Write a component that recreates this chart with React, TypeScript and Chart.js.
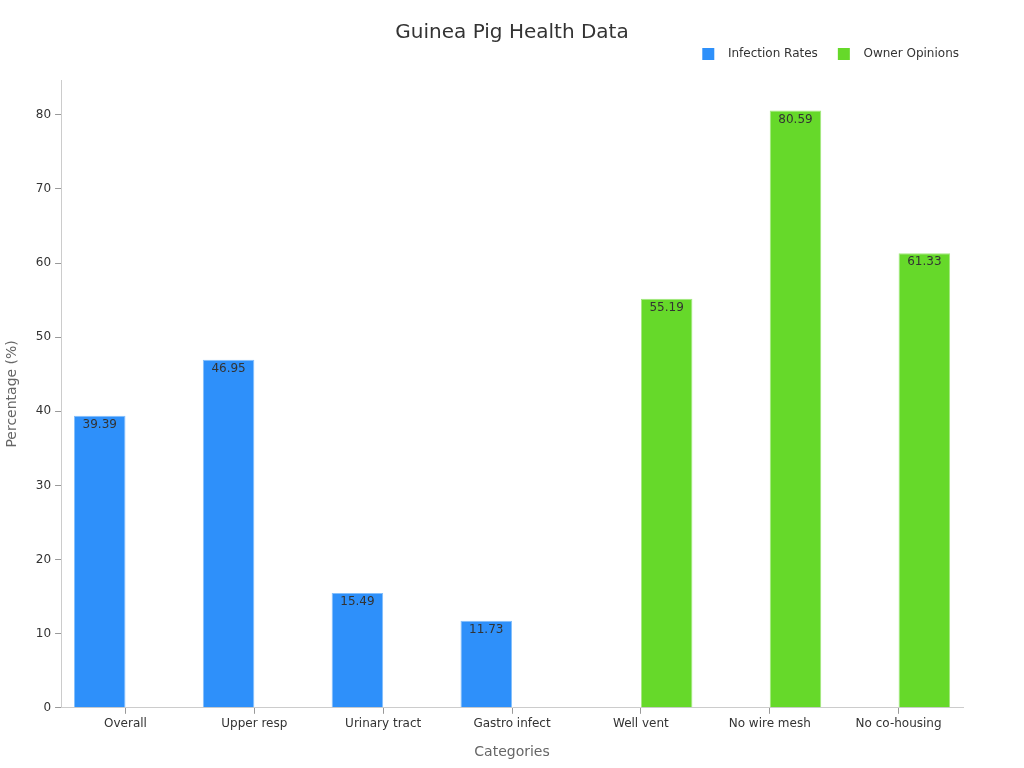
import React, { useRef, useEffect } from 'react';
import { Chart, registerables } from 'chart.js';

Chart.register(...registerables);

const CATEGORIES = ['Overall', 'Upper resp', 'Urinary tract', 'Gastro infect', 'Well vent', 'No wire mesh', 'No co-housing'];
const INFECTION_RATES = [39.39, 46.95, 15.49, 11.73, null, null, null];
const OWNER_OPINIONS = [null, null, null, null, 55.19, 80.59, 61.33];
const Y_TICKS = [0, 10, 20, 30, 40, 50, 60, 70, 80];
const Y_MAX = 84.7;

const FONT = '"DejaVu Sans", sans-serif';

// title centred on the whole canvas, not on the padded box
const titlePlugin = {
    id: 'centerTitle',
    afterDraw: (chart) => {
        const ctx = chart.ctx;
        ctx.save();
        ctx.font = `20px ${FONT}`;
        ctx.fillStyle = '#333333';
        ctx.textAlign = 'center';
        ctx.textBaseline = 'middle';
        ctx.fillText('Guinea Pig Health Data', chart.width / 2, 33);
        ctx.restore();
    },
};

// extra room between the legend and the plot
const legendMargin = {
    id: 'legendMargin',
    beforeInit: (chart) => {
        const fit = chart.legend.fit;
        chart.legend.fit = function () {
            fit.bind(chart.legend)();
            this.height += 10;
        };
    },
};

// value printed just inside the top of each bar
const barLabels = {
    id: 'barLabels',
    afterDatasetsDraw: (chart) => {
        const ctx = chart.ctx;
        ctx.save();
        ctx.font = `12px ${FONT}`;
        ctx.fillStyle = '#333333';
        ctx.textAlign = 'center';
        ctx.textBaseline = 'middle';
        chart.data.datasets.forEach((ds, i) => {
            chart.getDatasetMeta(i).data.forEach((bar, j) => {
                const v = ds.data[j];
                if (v == null) return;
                ctx.fillText(v.toFixed(2), bar.x, bar.y + 9);
            });
        });
        ctx.restore();
    },
};

export default function App() {
    const canvasRef = useRef<HTMLCanvasElement>(null);

    useEffect(() => {
        const ctx = canvasRef.current?.getContext('2d');
        if (!ctx) return;

        const chart = new Chart(ctx, {
            type: 'bar',
            data: {
                labels: CATEGORIES,
                datasets: [
                    {
                        label: 'Infection Rates',
                        data: INFECTION_RATES,
                        backgroundColor: '#2e90fa',
                        borderColor: '#84bffc',
                        borderWidth: 1,
                        barPercentage: 1,
                        categoryPercentage: 0.8,
                    },
                    {
                        label: 'Owner Opinions',
                        data: OWNER_OPINIONS,
                        backgroundColor: '#66d92a',
                        borderColor: '#a3e87e',
                        borderWidth: 1,
                        barPercentage: 1,
                        categoryPercentage: 0.8,
                    },
                ],
            },
            plugins: [titlePlugin, legendMargin, barLabels],
            options: {
                animation: false,
                responsive: true,
                maintainAspectRatio: false,
                layout: {
                    padding: { top: 28, right: 45, bottom: 3, left: 0 },
                },
                plugins: {
                    title: { display: false },
                    tooltip: { enabled: false },
                    legend: {
                        position: 'top',
                        align: 'end',
                        labels: {
                            boxWidth: 12,
                            boxHeight: 12,
                            padding: 20,
                            color: '#333333',
                            font: { family: FONT, size: 12 },
                            generateLabels: (chart) =>
                                Chart.defaults.plugins.legend.labels.generateLabels(chart).map(item => ({
                                    ...item,
                                    text: '  ' + item.text,
                                    lineWidth: 0,
                                })),
                        },
                    },
                },
                scales: {
                    x: {
                        grid: {
                            offset: false,
                            drawOnChartArea: false,
                            tickLength: 6,
                            color: '#999999',
                        },
                        border: { color: '#cccccc' },
                        ticks: {
                            color: '#333333',
                            font: { family: FONT, size: 12 },
                            padding: 3,
                        },
                        title: {
                            display: true,
                            text: 'Categories',
                            color: '#666666',
                            font: { family: FONT, size: 14 },
                            padding: { top: 10, bottom: 4 },
                        },
                    },
                    y: {
                        min: 0,
                        max: Y_MAX,
                        afterBuildTicks: (scale) => {
                            scale.ticks = Y_TICKS.map(v => ({ value: v }));
                        },
                        grid: {
                            drawOnChartArea: false,
                            tickLength: 6,
                            color: '#999999',
                        },
                        border: { color: '#cccccc' },
                        ticks: {
                            color: '#333333',
                            font: { family: FONT, size: 12 },
                            padding: 4,
                        },
                        title: {
                            display: true,
                            text: 'Percentage (%)',
                            color: '#666666',
                            font: { family: FONT, size: 14 },
                            padding: { top: 4, bottom: 11 },
                        },
                    },
                    // empty strip that keeps the plot clear of the right edge
                    yRight: {
                        position: 'right',
                        display: true,
                        grid: { display: false },
                        border: { display: false },
                        ticks: { display: false },
                        afterFit: (scale) => {
                            scale.width = 16;
                        },
                    },
                },
            },
        });

        return () => chart.destroy();
    }, []);

    return (
        <div style={{ position: 'fixed', left: 0, top: 0, width: 1024, height: 768, background: '#fff' }}>
            <canvas ref={canvasRef}></canvas>
        </div>
    );
}
